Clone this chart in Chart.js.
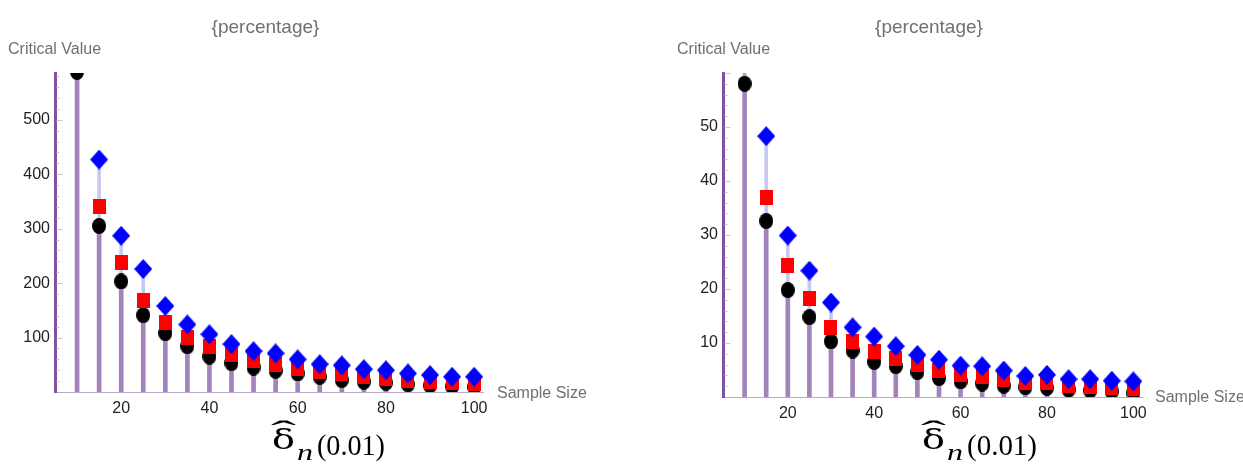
<!DOCTYPE html>
<html><head><meta charset="utf-8">
<script src="https://cdn.jsdelivr.net/npm/chart.js@4.4.1/dist/chart.umd.min.js"></script>
<style>
html,body{margin:0;padding:0;background:#fff;width:1243px;height:466px;overflow:hidden;position:relative;font-family:"Liberation Sans",Arial,sans-serif;}
.box{position:absolute;top:0;height:466px;}
.t{position:absolute;white-space:nowrap;color:#707070;font-size:16px;line-height:1;}
.ttl{font-size:19px;}
.p{position:absolute;white-space:nowrap;line-height:1;color:#000;transform-origin:left top;}
.d{font-family:"DejaVu Serif","Liberation Serif",serif;font-size:28px;font-weight:normal;}
.h{font-family:"Liberation Serif",serif;font-size:30px;}
.n{font-family:"Liberation Serif",serif;font-style:italic;font-size:23px;}
.v{font-family:"Liberation Serif",serif;font-size:30px;}
</style></head>
<body>
<div class="box" style="left:0;width:620px"><canvas id="c1"></canvas></div>
<div class="box" style="left:620px;width:623px"><canvas id="c2"></canvas></div>

<div class="t ttl" id="tt1" style="top:17px">{percentage}</div>
<div class="t" style="left:8px;top:41px">Critical Value</div>
<div class="t" style="left:497px;top:385px">Sample Size</div>
<div class="t ttl" id="tt2" style="top:17px">{percentage}</div>
<div class="t" style="left:677px;top:41px">Critical Value</div>
<div class="t" style="left:1155px;top:389px">Sample Size</div>

<div class="p h" data-w="25" style="left:271px;top:416px">ˆ</div>
<div class="p d" data-w="23" style="left:272px;top:426px">δ</div>
<div class="p n" data-w="16" style="left:297px;top:441px">n</div>
<div class="p v" data-w="68" style="left:317px;top:430px">(0.01)</div>
<div class="p h" data-w="25" style="left:921px;top:416px">ˆ</div>
<div class="p d" data-w="23" style="left:922px;top:426px">δ</div>
<div class="p n" data-w="16" style="left:947px;top:441px">n</div>
<div class="p v" data-w="70" style="left:967px;top:430px">(0.01)</div>

<script>
const sampleSizes = [10,15,20,25,30,35,40,45,50,55,60,65,70,75,80,85,90,95,100];
const xTicks = [20,40,60,80,100];
const leftYTicks = [100,200,300,400,500];
const rightYTicks = [10,20,30,40,50];

const leftBlack = [588,305,203,141,108,84,65,53,45,39,34,28,22,19,17,14,12,10,9];
const leftRed   = [null,340,238,168,127,101,83,68,57,51,43,37,34,28,25,21,19,17,15];
const leftBlue  = [null,427,287,226,158,124,106,88,75,71,60,51,49,42,40,34,31,28,28];

const rightBlack = [58.0,32.6,19.8,14.8,10.3,8.6,6.5,5.7,4.6,3.5,2.9,2.5,2.1,1.8,1.7,1.35,1.2,1.0,0.7];
const rightRed   = [null,36.9,24.3,18.2,12.8,10.3,8.4,7.2,6.0,5.0,4.1,3.8,3.2,2.6,2.6,2.1,2.0,1.7,1.5];
const rightBlue  = [null,48.3,29.9,23.4,17.5,12.9,11.2,9.4,7.8,6.9,5.8,5.7,4.9,3.9,4.1,3.3,3.3,3.0,2.9];

const leftYMax = 586, rightYMax = 60;
const xMin = 5, xMax = 102;

function mk(w,h,draw){const c=document.createElement('canvas');c.width=w;c.height=h;draw(c.getContext('2d'),w,h);return c;}
const circleImg = mk(14,16,(g,w,h)=>{g.fillStyle='#000';g.beginPath();g.ellipse(w/2,h/2,w/2,h/2,0,0,Math.PI*2);g.fill();});
const squareImg = mk(13,15,(g,w,h)=>{g.fillStyle='#ff0000';g.fillRect(0,0,w,h);});
const diamondImg = mk(18,20,(g,w,h)=>{g.fillStyle='#0000ff';g.beginPath();g.moveTo(w/2,0);g.lineTo(w,h/2);g.lineTo(w/2,h);g.lineTo(0,h/2);g.closePath();g.fill();});

const minorTicks = {
  id:'minorTicks',
  beforeDatasetsDraw(chart, args, opts){
    const y = chart.scales.y, ctx = chart.ctx, left = chart.chartArea.left;
    ctx.save(); ctx.strokeStyle='#c8c8c8'; ctx.lineWidth=1;
    for(let k=1; k*opts.step<=y.max; k++){
      const v=k*opts.step;
      const py=Math.round(y.getPixelForValue(v))+0.5;
      const major = (k % opts.every)===0;
      ctx.beginPath(); ctx.moveTo(left+1.5,py); ctx.lineTo(left+1.5+(major?6:3),py); ctx.stroke();
    }
    ctx.restore();
  }
};

const font = {family:'"Liberation Sans", Arial, sans-serif', size:16};

function makeChart(id, black, red, blue, yMax, yTicks, padding, minorStep){
  const pts = arr => sampleSizes.map((n,i)=>({x:n,y:arr[i]})).filter(p=>p.y!==null);
  const lower = sampleSizes.map((n,i)=>({x:n,y:[0,black[i]]}));
  const upper = sampleSizes.map((n,i)=>({x:n,y:[black[i], blue[i]===null? yMax : blue[i]]}));
  const upperColors = sampleSizes.map((n,i)=> blue[i]===null ? '#b596c9' : '#c8c8f4');
  return new Chart(document.getElementById(id), {
    type:'scatter',
    data:{datasets:[
      {label:'blue', data:pts(blue), pointStyle:diamondImg, pointRadius:9, order:0, clip:0},
      {label:'red', data:pts(red), pointStyle:squareImg, pointRadius:7, order:1, clip:0},
      {label:'black', data:pts(black), pointStyle:circleImg, pointRadius:7, order:2, clip:0},
      {type:'bar', label:'upper', data:upper, backgroundColor:upperColors, barThickness:3, grouped:false, borderWidth:0, order:3, clip:0},
      {type:'bar', label:'lower', data:lower, backgroundColor:'#a383bb', barThickness:4, grouped:false, borderWidth:0, order:4, clip:0}
    ]},
    options:{
      responsive:true, maintainAspectRatio:false, animation:false, devicePixelRatio:1,
      layout:{padding},
      plugins:{legend:{display:false}, tooltip:{enabled:false}, minorTicks:{step:minorStep, every:5}},
      scales:{
        x:{type:'linear', min:xMin, max:xMax, offset:false,
           grid:{display:false, drawTicks:false},
           border:{display:true, color:'#b9aac8', width:1},
           ticks:{color:'#222', font, padding:7, autoSkip:false, maxRotation:0},
           afterBuildTicks:s=>{s.ticks = xTicks.map(v=>({value:v}));},
           afterFit:s=>{s.height=30;}},
        y:{type:'linear', min:0, max:yMax,
           grid:{display:false, drawTicks:false},
           border:{display:true, color:'#7d52a0', width:3},
           ticks:{color:'#222', font, padding:5},
           afterBuildTicks:s=>{s.ticks = yTicks.map(v=>({value:v}));},
           afterFit:s=>{s.width=55;}}
      }
    },
    plugins:[minorTicks]
  });
}

makeChart('c1', leftBlack, leftRed, leftBlue, leftYMax, leftYTicks, {top:73,left:0,right:137,bottom:44}, 20);
makeChart('c2', rightBlack, rightRed, rightBlue, rightYMax, rightYTicks, {top:73,left:48,right:101,bottom:39}, 2);

function center(el, cx){ const w=el.getBoundingClientRect().width; el.style.left=(cx-w/2)+'px'; }
center(document.getElementById('tt1'), 265.5);
center(document.getElementById('tt2'), 929);
document.querySelectorAll('.p').forEach(el=>{
  const w = el.getBoundingClientRect().width;
  const target = parseFloat(el.dataset.w);
  el.style.transform = 'scaleX(' + (target/w) + ')';
});
</script>
</body></html>
